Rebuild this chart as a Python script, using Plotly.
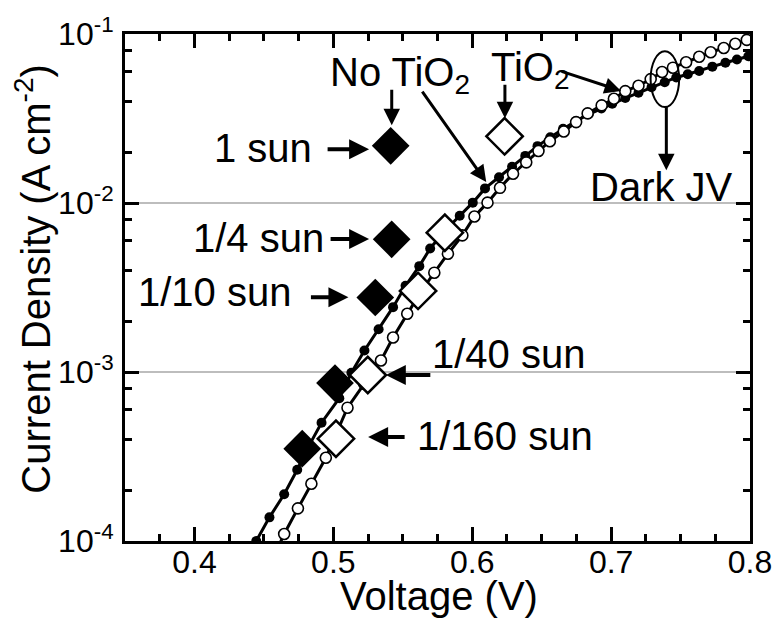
import plotly.graph_objects as go

# ---------------- data ----------------
# Dark J-V, cell without TiO2 (filled circles)
v_no_tio2 = [0.4445, 0.454, 0.4646, 0.474, 0.4822, 0.4915, 0.5043, 0.513, 0.5224, 0.5326,
             0.543, 0.552, 0.5619, 0.5697, 0.5803, 0.591, 0.6004, 0.6092, 0.6193, 0.6287,
             0.6382, 0.647, 0.6562, 0.6654, 0.6746, 0.6838, 0.693, 0.7008, 0.7102, 0.7197,
             0.7291, 0.7386, 0.7469, 0.7552, 0.7634, 0.7729, 0.7823, 0.7906, 0.7988]
j_no_tio2 = [1.00e-4, 1.38e-4, 1.89e-4, 2.64e-4, 3.63e-4, 5.01e-4, 7.00e-4, 9.89e-4, 1.34e-3, 1.79e-3,
             2.42e-3, 3.24e-3, 4.23e-3, 5.38e-3, 6.84e-3, 8.40e-3, 1.005e-2, 1.22e-2, 1.42e-2, 1.64e-2,
             1.90e-2, 2.17e-2, 2.45e-2, 2.75e-2, 3.05e-2, 3.35e-2, 3.63e-2, 3.87e-2, 4.18e-2, 4.49e-2,
             4.84e-2, 5.18e-2, 5.53e-2, 5.78e-2, 6.04e-2, 6.41e-2, 6.76e-2, 7.06e-2, 7.38e-2]

# Dark J-V, cell with TiO2 (open circles)
v_tio2 = [0.4548, 0.4646, 0.4745, 0.4842, 0.4946, 0.5024, 0.5102, 0.5222, 0.5343, 0.543, 0.5532,
          0.5626, 0.5727, 0.5825, 0.5929, 0.6016, 0.611, 0.62, 0.6294, 0.6389, 0.6477,
          0.6559, 0.6659, 0.6748, 0.6831, 0.6932, 0.702, 0.7102, 0.7197, 0.7285, 0.7367,
          0.7445, 0.754, 0.7634, 0.7717, 0.7811, 0.7894, 0.7977]
j_tio2 = [7.3e-5, 1.10e-4, 1.56e-4, 2.18e-4, 3.11e-4, 4.37e-4, 6.15e-4, 8.51e-4, 1.17e-3, 1.60e-3, 2.21e-3,
          2.95e-3, 3.87e-3, 5.01e-3, 6.43e-3, 8.32e-3, 1.005e-2, 1.23e-2, 1.49e-2, 1.74e-2, 2.03e-2,
          2.32e-2, 2.65e-2, 3.01e-2, 3.39e-2, 3.78e-2, 4.14e-2, 4.59e-2, 4.94e-2, 5.41e-2, 5.96e-2,
          6.32e-2, 6.81e-2, 7.33e-2, 7.80e-2, 8.26e-2, 8.75e-2, 9.23e-2]

# Illuminated (Voc, Jsc) pairs at each light intensity
intensities = ["1 sun", "1/4 sun", "1/10 sun", "1/40 sun", "1/160 sun"]
voc_no_tio2 = [0.5413, 0.5420, 0.5302, 0.5012, 0.4776]
jsc_no_tio2 = [2.18e-2, 6.10e-3, 2.76e-3, 8.60e-4, 3.52e-4]
voc_tio2 = [0.6233, 0.5803, 0.5610, 0.5248, 0.5019]
jsc_tio2 = [2.48e-2, 6.67e-3, 3.02e-3, 9.60e-4, 4.03e-4]

y_tick_vals = [1e-4, 1e-3, 1e-2, 1e-1]
y_tick_text = ["10<sup>-4</sup>", "10<sup>-3</sup>", "10<sup>-2</sup>", "10<sup>-1</sup>"]
y_minor_vals = [m * 10.0 ** e for e in (-4, -3, -2) for m in (2, 4, 6, 8)]

# ---------------- figure ----------------
W, H = 784, 624
ML, MR, MT, MB = 125, 24, 24, 83
PW, PH = W - ML - MR, H - MT - MB
FONT = "Liberation Sans, Arial, Helvetica, sans-serif"


def to_paper(x, y):
    """pixel position on the page -> paper coordinates"""
    return (x - ML) / PW, (H - MB - y) / PH


fig = go.Figure()

fig.add_trace(go.Scatter(
    x=v_no_tio2, y=j_no_tio2, mode="lines+markers", name="No TiO2",
    line=dict(color="black", width=3),
    marker=dict(symbol="circle", size=10, color="black"),
))
fig.add_trace(go.Scatter(
    x=v_tio2, y=j_tio2, mode="lines+markers", name="TiO2",
    line=dict(color="black", width=3),
    marker=dict(symbol="circle", size=11, color="white", line=dict(color="black", width=1.6)),
))
fig.add_trace(go.Scatter(
    x=voc_no_tio2, y=jsc_no_tio2, mode="markers", name="No TiO2 (light)",
    text=intensities,
    marker=dict(symbol="diamond", size=29, color="black"),
))
fig.add_trace(go.Scatter(
    x=voc_tio2, y=jsc_tio2, mode="markers", name="TiO2 (light)",
    text=intensities,
    marker=dict(symbol="diamond", size=28, color="white", line=dict(color="black", width=2.5)),
))

annotations = []

# arrows: (tip, tail, shaft width, head scale)
arrows = [
    ((373, 141.5), (330, 141.5), 4, 1.0),
    ((373, 233), (333, 233), 4, 1.0),
    ((352, 292.5), (313, 292.5), 4, 1.0),
    ((390, 371.7), (436, 371.7), 4, 1.0),
    ((372, 435), (410, 435), 4, 1.0),
    ((396, 117), (396, 80), 3, 1.1),
    ((511, 110), (511, 75), 3, 1.1),
    ((492, 175), (427, 83), 3, 1.1),
    ((629, 82), (568, 62), 3, 1.1),
    ((675, 163), (675, 98), 3, 1.1),
]
for (tx, ty), (sx, sy), w, s in arrows:
    px, py = to_paper(tx, ty)
    annotations.append(dict(
        x=px, y=py, xref="paper", yref="paper", text="",
        showarrow=True, arrowhead=2, arrowwidth=w, arrowsize=s, arrowcolor="black",
        ax=sx - tx, ay=sy - ty, axref="pixel", ayref="pixel", standoff=0,
    ))

# text labels: (text, x, y, horizontal anchor, rotation, size)
labels = [
    ("1 sun", 316, 140, "right", 0, 40),
    ("1/4 sun", 328, 232.5, "right", 0, 40),
    ("1/10 sun", 295, 287, "right", 0, 40),
    ("1/40 sun", 436, 350.5, "left", 0, 40),
    ("1/160 sun", 421, 434, "left", 0, 40),
    ("No TiO<sub>2</sub>", 332, 66, "left", 0, 40),
    ("TiO<sub>2</sub>", 496, 61, "left", 0, 40),
    ("Dark JV", 670, 180, "center", 0, 40),
    ("Voltage (V)", 444, 597, "center", 0, 40),
    ("Current Density (A cm<sup>-2</sup>)", 32, 274, "center", -90, 40),
]
for txt, lx, ly, anchor, angle, size in labels:
    px, py = to_paper(lx, ly)
    annotations.append(dict(
        x=px, y=py, xref="paper", yref="paper", text=txt, showarrow=False,
        xanchor=anchor, yanchor="middle", borderpad=0, textangle=angle,
        font=dict(family=FONT, size=size, color="black"),
    ))

ex0, ey0 = to_paper(659, 98.5)
ex1, ey1 = to_paper(688, 41.5)
shapes = [dict(type="circle", xref="paper", yref="paper", x0=ex0, y0=ey0, x1=ex1, y1=ey1,
               line=dict(color="black", width=2), fillcolor="rgba(0,0,0,0)")]

axis_common = dict(
    showline=True, linecolor="black", linewidth=3, mirror="allticks",
    ticks="inside", ticklen=14, tickwidth=2.5, tickcolor="black",
    tickfont=dict(family=FONT, size=32, color="black"),
    zeroline=False,
)

fig.update_layout(
    width=W, height=H,
    margin=dict(l=ML, r=MR, t=MT, b=MB, pad=0),
    paper_bgcolor="white", plot_bgcolor="white",
    showlegend=False,
    font=dict(family=FONT, color="black"),
    annotations=annotations,
    shapes=shapes,
    xaxis=dict(
        range=[0.35, 0.8], tick0=0.4, dtick=0.1, tickformat=".1f",
        showgrid=False,
        minor=dict(dtick=0.025, tick0=0.4, ticks="inside", ticklen=7, tickwidth=2.5,
                   tickcolor="black", showgrid=False),
        ticklabelstandoff=-9,
        **axis_common,
    ),
    yaxis=dict(
        type="log", range=[-4, -1],
        tickvals=y_tick_vals, ticktext=y_tick_text,
        showgrid=True, gridcolor="#bdbdbd", gridwidth=2,
        minor=dict(tickvals=y_minor_vals, ticks="inside", ticklen=7, tickwidth=2.5,
                   tickcolor="black", showgrid=False),
        ticklabelstandoff=2,
        **axis_common,
    ),
)

fig.write_html("out.html")
